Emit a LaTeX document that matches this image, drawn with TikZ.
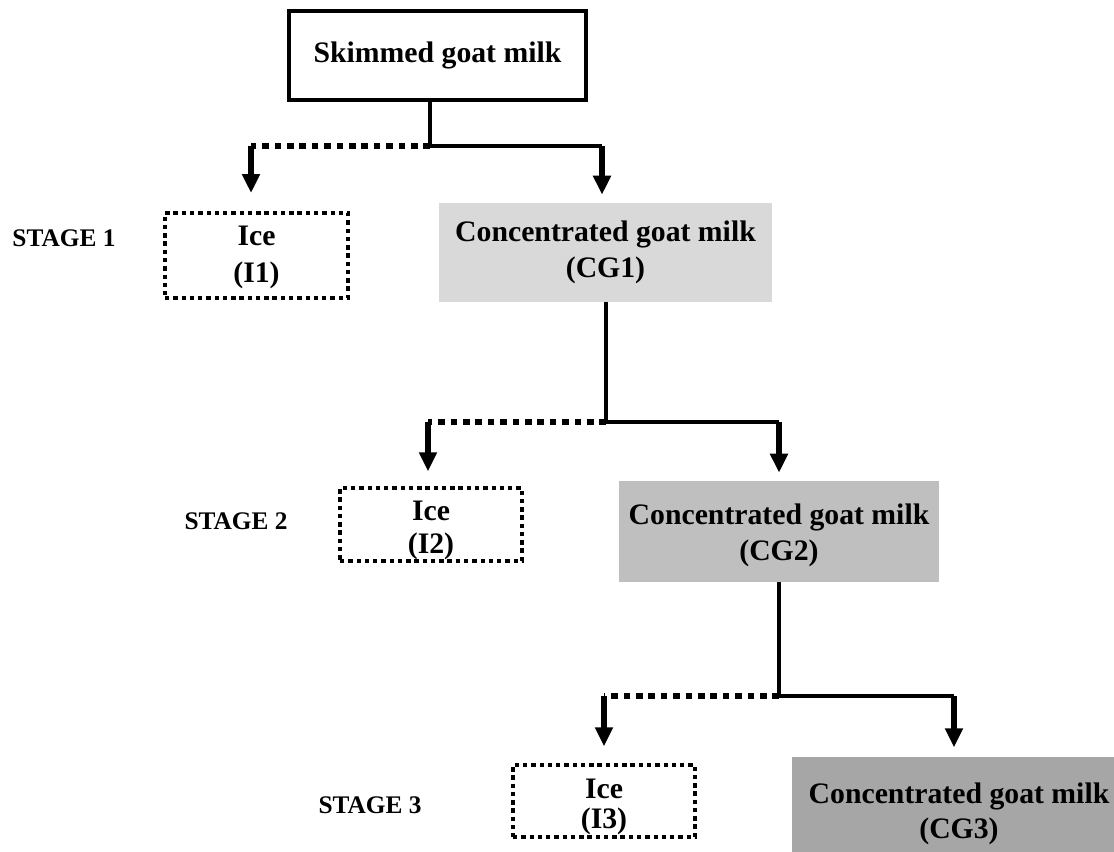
\documentclass[tikz,border=0pt]{standalone}
\usepackage{fontspec}
\setmainfont{Liberation Serif}
\usetikzlibrary{arrows.meta,calc}
\begin{document}
\begin{tikzpicture}[x=0.75pt,y=-0.75pt,
  box/.style={inner sep=0pt, align=center, font=\fontsize{22.3}{27.5}\selectfont\bfseries},
  plainbox/.style={box, draw=black, line width=2.5pt},
  icebox/.style={box, draw=black, line width=3pt, dash pattern=on 3.3pt off 2.9pt},
  icetext/.style={inner sep=0pt, align=center, font=\fontsize{22.3}{#1}\selectfont\bfseries},
  cgbox/.style={box},
  stagelabel/.style={font=\fontsize{19}{23}\selectfont\bfseries},
  link/.style={line width=3pt},
  dotlink/.style={line width=4pt, dash pattern=on 5pt off 4.3pt},
  arr/.style={line width=4.5pt, -{Triangle[width=12.75pt,length=14.25pt]}}]
\useasboundingbox (0,0) rectangle (1114,851);
\clip (0,0) rectangle (1114,851);
% nodes
\node[plainbox, minimum width=222.75pt, minimum height=66.75pt] (skim) at (437.5,55.5) {Skimmed goat milk};
\node[icebox, minimum width=137.25pt, minimum height=63.75pt] (ice1) at (256.5,255.5) {};
\node[icetext=27.75pt] (ice1t) at (256.5,257.5) {Ice\\(I1)};
\node[cgbox, fill=black!15, minimum width=249.75pt, minimum height=74.25pt] (cg1) at (605.5,252.5) {Concentrated goat milk\\(CG1)};
\node[icebox, minimum width=136.5pt, minimum height=54.75pt] (ice2) at (431,524.5) {};
\node[icetext=24.75pt] (ice2t) at (431,530) {Ice\\(I2)};
\node[cgbox, fill=black!25, minimum width=240pt, minimum height=75.75pt] (cg2) at (779,531.5) {};
\node[icetext=27pt] (cg2t) at (779,535.5) {Concentrated goat milk\\(CG2)};
\node[icebox, minimum width=136.5pt, minimum height=54pt] (ice3) at (604,801) {};
\node[icetext=22.5pt] (ice3t) at (604,806.5) {Ice\\(I3)};
\node[cgbox, fill=black!35, minimum width=250.5pt, minimum height=79.5pt] (cg3) at (959,810) {};
\node[icetext=26.25pt] (cg3t) at (959,813.5) {Concentrated goat milk\\(CG3)};
\node[stagelabel] (s1) at (64,238) {STAGE 1};
\node[stagelabel] (s2) at (236,521) {STAGE 2};
\node[stagelabel] (s3) at (370,805) {STAGE 3};
% stage 1 connectors
\coordinate (j1) at (430,146);
\coordinate (l1) at (251,146);
\coordinate (r1) at (602,146);
\draw[dotlink] (j1) -- (l1);
\draw[link] (skim.south -| j1) -- (j1) -- (r1);
\draw[arr, shorten >=13.5pt] (l1) -- (l1 |- ice1.north);
\draw[arr, shorten >=6pt] (r1) -- (r1 |- cg1.north);
% stage 2 connectors
\coordinate (j2) at (606,422);
\coordinate (l2) at (428,422);
\coordinate (r2) at (779,422);
\draw[dotlink] (j2) -- (l2);
\draw[link] (cg1.south -| j2) -- (j2) -- (r2);
\draw[arr, shorten >=11pt] (l2) -- (l2 |- ice2.north);
\draw[arr, shorten >=6pt] (r2) -- (r2 |- cg2.north);
% stage 3 connectors
\coordinate (j3) at (779,696);
\coordinate (l3) at (604,696);
\coordinate (r3) at (954,696);
\draw[dotlink] (j3) -- (l3);
\draw[link] (cg2.south -| j3) -- (j3) -- (r3);
\draw[arr, shorten >=12.5pt] (l3) -- (l3 |- ice3.north);
\draw[arr, shorten >=7pt] (r3) -- (r3 |- cg3.north);
\end{tikzpicture}
\end{document}
